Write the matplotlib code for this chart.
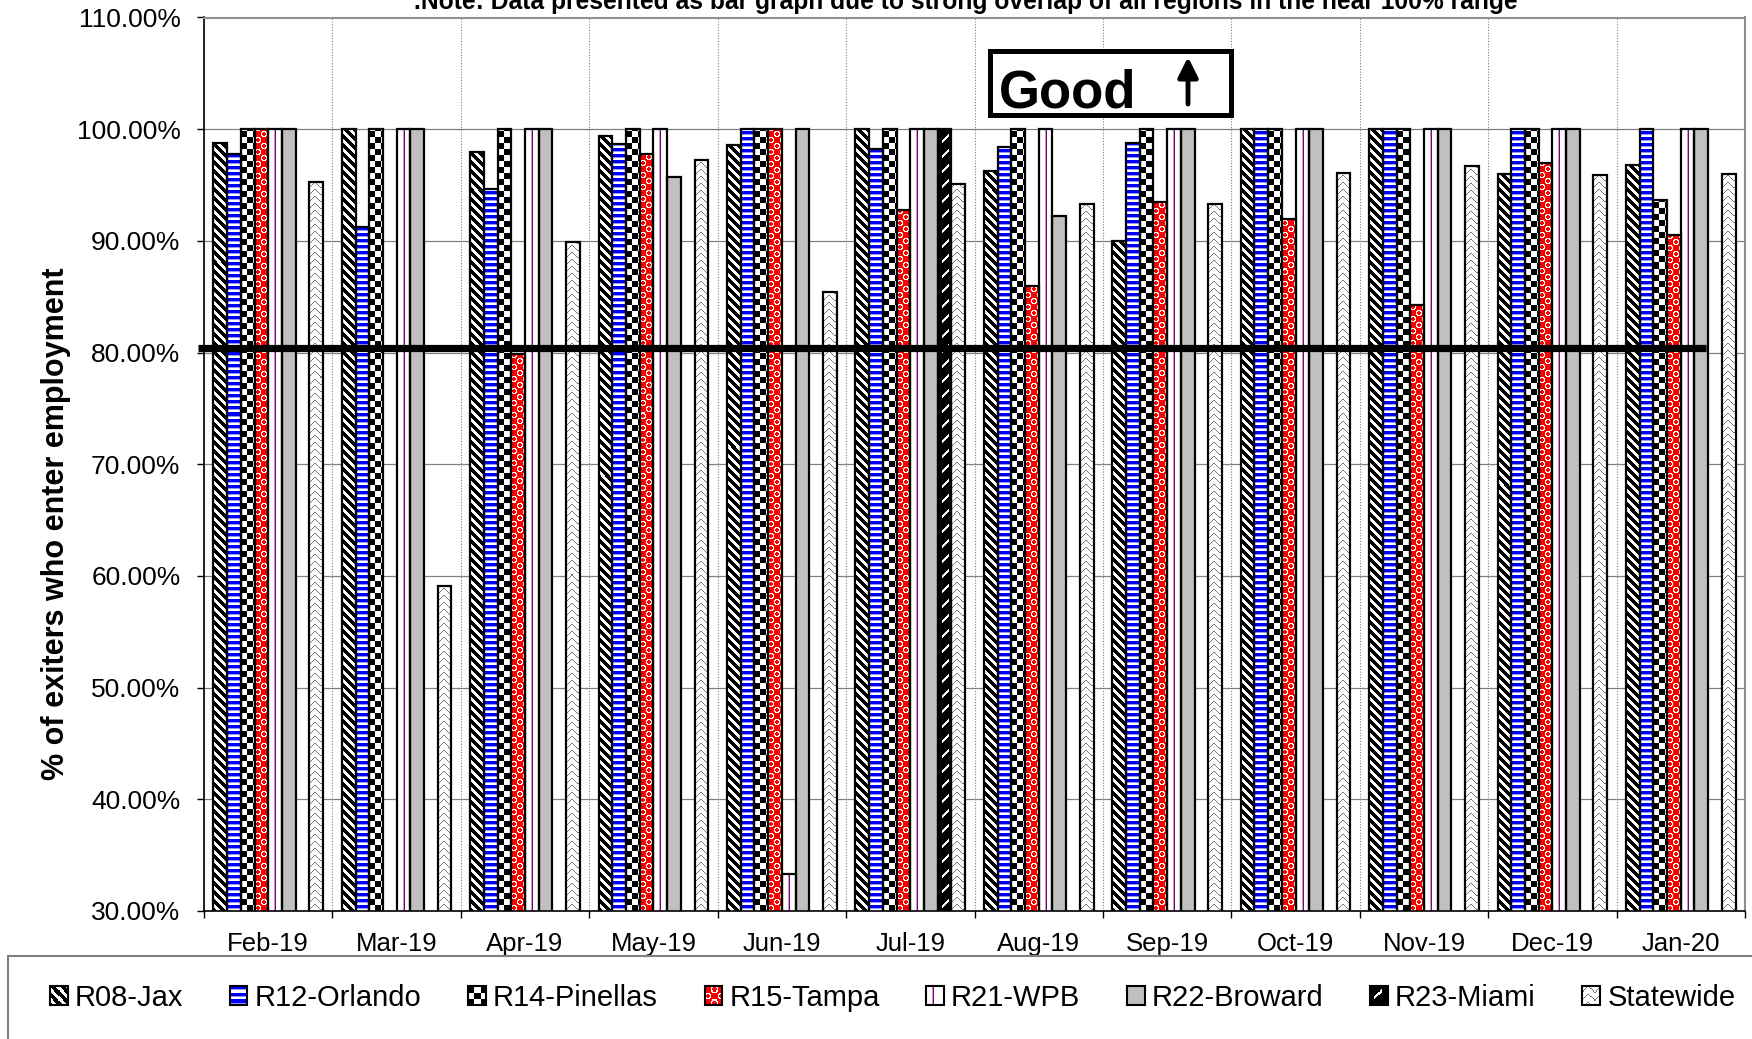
import numpy as np
import matplotlib
matplotlib.use('Agg')
import matplotlib.pyplot as plt
from matplotlib.patches import Rectangle, FancyArrowPatch
from matplotlib.image import BboxImage
from matplotlib.transforms import Bbox, TransformedBbox, blended_transform_factory
from matplotlib.legend_handler import HandlerBase

plt.rcParams['font.family'] = ['Liberation Sans', 'DejaVu Sans']

months = ['Feb-19', 'Mar-19', 'Apr-19', 'May-19', 'Jun-19', 'Jul-19',
          'Aug-19', 'Sep-19', 'Oct-19', 'Nov-19', 'Dec-19', 'Jan-20']
regions = ['R08-Jax', 'R12-Orlando', 'R14-Pinellas', 'R15-Tampa',
           'R21-WPB', 'R22-Broward', 'R23-Miami', 'Statewide']
nan = np.nan
r08 = [98.8, 100, 98.0, 99.4, 98.6, 100, 96.3, 90.0, 100, 100, 96.0, 96.8]
r12 = [97.8, 91.2, 94.6, 98.7, 100, 98.2, 98.4, 98.8, 100, 100, 100, 100]
r14 = [100, 100, 100, 100, 100, 100, 100, 100, 100, 100, 100, 93.7]
r15 = [100, 0, 79.9, 97.8, 100, 92.8, 86.0, 93.5, 92.0, 84.3, 97.0, 90.5]
r21 = [100, 100, 100, 100, 33.3, 100, 100, 100, 100, 100, 100, 100]
r22 = [100, 100, 100, 95.7, 100, 100, 92.2, 100, 100, 100, 100, 100]
r23 = [nan, nan, nan, nan, nan, 100, nan, nan, nan, nan, nan, nan]
statewide = [95.3, 59.1, 89.9, 97.2, 85.4, 95.1, 93.3, 93.3, 96.1, 96.7, 95.9, 96.0]
series = [r08, r12, r14, r15, r21, r22, r23, statewide]

goal_line = 80.4
title = ('.Note: Data presented as bar graph due to strong overlap of all '
         'regions in the near 100% range')

W, H = 1752, 1039
YMIN, YMAX = 30, 110
AX_L, AX_R, AX_T, AX_B = 204, 1745, 17.5, 911

# --- bitmap fill patterns (Excel style) ---
WHITE = (255, 255, 255)
BLACK = (0, 0, 0)
BLUE = (0, 0, 255)
LBLUE = (150, 150, 255)
RED = (255, 0, 0)
PURPLE = (128, 0, 128)
SILVER = (192, 192, 192)
GREY = (120, 120, 120)


def paint(mask, on, off=WHITE):
    out = np.empty(mask.shape + (3,), dtype=np.uint8)
    out[mask] = on
    out[~mask] = off
    return out


r, c = np.mgrid[0:9, 0:9]
tile_jax = paint((c - r) % 9 < 5, BLACK)

tile_orl = np.array([[BLUE], [BLUE], [BLUE], [LBLUE], [WHITE], [WHITE]], dtype=np.uint8)

r, c = np.mgrid[0:12, 0:12]
tile_pin = paint(((r // 6) + (c // 6)) % 2 == 0, BLACK)

ring = np.array([[0, 1, 1, 1, 1, 0],
                 [1, 1, 0, 0, 1, 1],
                 [1, 0, 0, 0, 0, 1],
                 [1, 0, 0, 0, 0, 1],
                 [1, 1, 0, 0, 1, 1],
                 [0, 1, 1, 1, 1, 0]], dtype=bool)
solid = np.zeros((6, 6), dtype=bool)
tile_tam = paint(np.block([[solid, ring], [ring, solid]]), WHITE, RED)

tile_wpb = np.full((1, 14, 3), 255, dtype=np.uint8)
tile_wpb[0, 7] = PURPLE
tile_wpb[0, 6] = (200, 150, 200)

tile_bro = np.array([[SILVER]], dtype=np.uint8)

r, c = np.mgrid[0:15, 0:14]
tile_mia = paint((np.abs(r + c - 14) <= 1) & (c >= 4) & (c <= 10), WHITE, BLACK)

r, c = np.mgrid[0:7, 0:12]
tile_sw = paint(np.abs(np.abs(c - 5.5) - (r + 0.5)) < 1.0, GREY)

tiles = [tile_jax, tile_orl, tile_pin, tile_tam, tile_wpb, tile_bro, tile_mia, tile_sw]

fig = plt.figure(figsize=(W / 100, H / 100), dpi=100)
ax = fig.add_axes([AX_L / W, 1 - AX_B / H, (AX_R - AX_L) / W, (AX_B - AX_T) / H])

ppx = (AX_R - AX_L) / len(months)   # pixels per category
ppy = (AX_B - AX_T) / (YMAX - YMIN)  # pixels per percent

x = np.arange(len(months))
width = 0.1067
offsets = (np.arange(len(series)) - (len(series) - 1) / 2) * width


def fill_bars(bars, tile):
    th, tw = tile.shape[:2]
    for rect in bars:
        top = rect.get_y() + rect.get_height()
        if not np.isfinite(top) or top <= YMIN:
            continue
        x0 = rect.get_x()
        nx = int(np.ceil(rect.get_width() * ppx / tw)) + 1
        ny = int(np.ceil((top - YMIN) * ppy / th)) + 1
        img = np.tile(tile, (ny, nx, 1))
        im = ax.imshow(img, extent=(x0, x0 + nx * tw / ppx, YMIN, YMIN + ny * th / ppy),
                       interpolation='nearest', aspect='auto', zorder=2)
        im.set_clip_path(rect)


containers = []
for vals, off, tile in zip(series, offsets, tiles):
    bars = ax.bar(x + off, vals, width, facecolor='none', edgecolor='black',
                  linewidth=1.6, zorder=3)
    fill_bars(bars, tile)
    containers.append(bars)

# target line across the plot
tr = blended_transform_factory(ax.transAxes, ax.transData)
ax.plot([-0.004, 0.975], [goal_line, goal_line], transform=tr, color='black',
        lw=5.2, solid_capstyle='butt', clip_on=False, zorder=5)

ax.set_xlim(-0.5, len(months) - 0.5)
ax.set_ylim(YMIN, YMAX)
ax.set_yticks(np.arange(YMIN, YMAX + 1, 10))
ax.set_yticklabels(['%.2f%%' % v for v in np.arange(YMIN, YMAX + 1, 10)])
ax.set_xticks(np.arange(-0.5, len(months), 1))
ax.set_xticklabels([])
ax.set_xticks(x, minor=True)
ax.set_xticklabels(months, minor=True)
ax.tick_params(axis='y', labelsize=19, pad=12, length=5, width=1, direction='out')
ax.tick_params(axis='x', which='major', length=5, width=1, direction='out')
ax.tick_params(axis='x', which='minor', length=0, pad=15, labelsize=18.5)

ax.set_axisbelow(True)
ax.grid(axis='y', color='#808080', lw=0.9)
ax.grid(axis='x', which='major', color='#808080', lw=0.8, ls=(0, (1, 1.5)))
for side in ['top', 'right']:
    ax.spines[side].set_color('#909090')
    ax.spines[side].set_linewidth(1.5)
for side in ['left', 'bottom']:
    ax.spines[side].set_color('black')
    ax.spines[side].set_linewidth(1.2)

ax.set_ylabel('% of exiters who enter employment', fontsize=22, fontweight='bold')
ax.yaxis.set_label_coords((71 - AX_L) / (AX_R - AX_L), (AX_B - 524) / (AX_B - AX_T))

fig.text(966 / W, 1 - 9 / H, title, ha='center', va='baseline',
         fontsize=17.7, fontweight='bold')

# "Good" indicator box with arrow
fig.add_artist(Rectangle((990 / W, 1 - 115 / H), 241 / W, 64 / H,
                         transform=fig.transFigure, facecolor='white',
                         edgecolor='black', lw=3.6, zorder=6))
fig.text(999 / W, 1 - 108 / H, 'Good', fontsize=38, fontweight='bold',
         va='baseline', ha='left', zorder=7)
fig.add_artist(FancyArrowPatch((1188 / W, 1 - 104 / H), (1188 / W, 1 - 57 / H),
                               transform=fig.transFigure, arrowstyle='-|>',
                               mutation_scale=30, lw=3.5, color='black',
                               shrinkA=0, shrinkB=0, zorder=8))


class TextureHandler(HandlerBase):
    def __init__(self, tile):
        super().__init__()
        self.tile = tile

    def create_artists(self, legend, orig_handle, xdescent, ydescent,
                       width, height, fontsize, trans):
        n = 17
        th, tw = self.tile.shape[:2]
        img = np.tile(self.tile, (n // th + 2, n // tw + 2, 1))[:n, :n]
        box = Bbox.from_bounds(-xdescent, -ydescent, width, height)
        bim = BboxImage(TransformedBbox(box, trans), interpolation='nearest')
        bim.set_data(img)
        frame = Rectangle((-xdescent, -ydescent), width, height, facecolor='none',
                          edgecolor='black', lw=1.5, transform=trans)
        return [bim, frame]


fig.add_artist(Rectangle((8 / W, -0.05), 1.1, (H - 956) / H + 0.05,
                         transform=fig.transFigure, fill=False,
                         edgecolor='#808080', lw=1.5))
fig.legend(handles=containers, labels=regions,
           handler_map={cont: TextureHandler(t) for cont, t in zip(containers, tiles)},
           ncol=len(regions), loc='center left', bbox_to_anchor=(50 / W, 1 - 998 / H),
           frameon=False, fontsize=21, handlelength=0.6, handleheight=0.6,
           handletextpad=0.25, columnspacing=1.6, borderpad=0, borderaxespad=0)

fig.savefig('out.png', dpi=100)
